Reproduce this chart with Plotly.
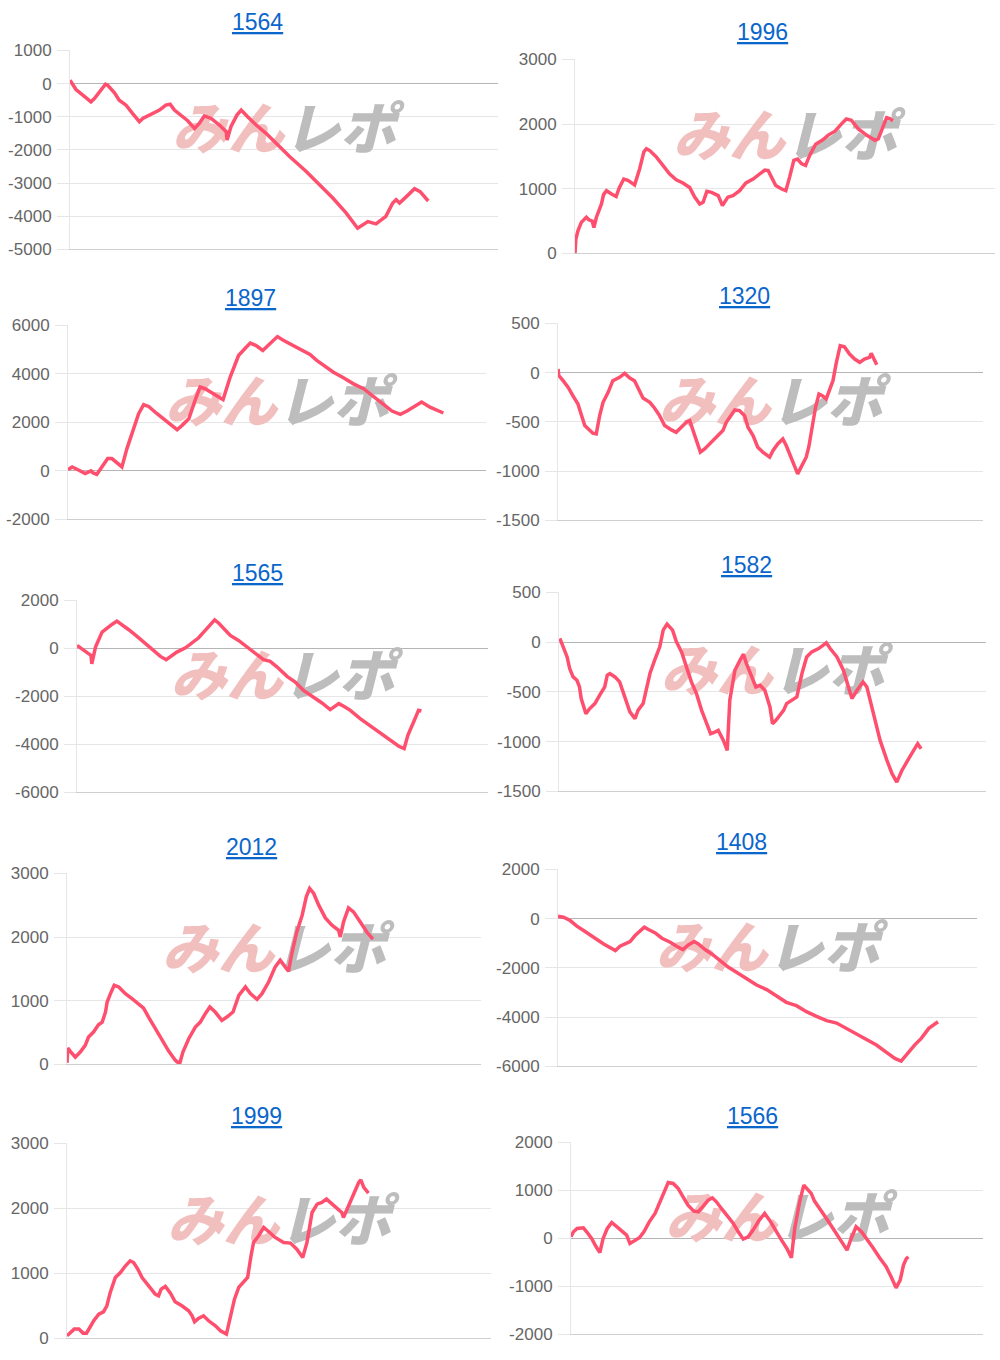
import plotly.graph_objects as go

W, H = 1000, 1360
SY, OY = 0.986, 8.7    # vertical scale / offset observed between figure and final picture

# ---------------- data (x = position along the game axis, 0-100 %) ----------------
titles = ["1564", "1996", "1897", "1320", "1565", "1582", "2012", "1408", "1999", "1566"]

x_1564 = [0, 1.4, 3.0, 4.9, 5.7, 6.9, 8.3, 8.8, 10.4, 11.5, 13.1, 14.6, 16.2, 17.0, 18.5, 20.9, 22.4, 23.4, 24.4, 25.9,
          27.5, 29.1, 30.2, 31.4, 33.0, 34.9, 36.5, 36.7, 37.6, 39.0, 40.0, 41.5, 43.5, 45.8, 48.1, 51.3, 55.2, 58.3, 61.4, 64.5,
          67.2, 69.6, 71.5, 73.8, 75.4, 76.2, 77.0, 78.9, 80.5, 81.8, 83.7]
y_1564 = [100, -180, -350, -550, -450, -250, -20, -50, -280, -500, -650, -900, -1150, -1050, -950, -800, -650, -620, -800, -950,
          -1120, -1350, -1200, -970, -1050, -1250, -1450, -1700, -1300, -950, -800, -1000, -1250, -1500, -1800, -2200, -2650, -3050, -3450, -3900,
          -4360, -4160, -4230, -4000, -3600, -3500, -3600, -3370, -3170, -3260, -3540]

x_1996 = [0, 0.2, 0.7, 1.5, 2.7, 3.3, 4.1, 4.5, 5.1, 6.3, 6.8, 7.5, 8.7, 9.8, 10.5, 11.6, 12.6, 14.2, 15.4, 16.4,
          17.0, 17.8, 19.4, 21.0, 22.5, 24.1, 25.7, 27.3, 28.5, 29.7, 30.5, 31.4, 32.5, 34.1, 35.1, 36.4, 37.6, 39.2, 40.7, 42.4,
          44.0, 45.2, 46.0, 46.8, 47.8, 49.1, 50.2, 51.1, 52.1, 53.0, 53.9, 54.9, 55.9, 57.3, 59.1, 60.3, 61.9, 63.4, 64.6, 65.8,
          67.4, 69.4, 71.4, 72.2, 73.2, 74.2, 75.1, 75.7]
y_1996 = [0, 220, 350, 480, 560, 520, 500, 400, 560, 765, 910, 970, 920, 880, 1010, 1150, 1130, 1060, 1310, 1570,
          1620, 1590, 1490, 1360, 1230, 1140, 1090, 1020, 870, 765, 790, 960, 945, 895, 740, 870, 895, 970, 1090, 1150,
          1230, 1290, 1280, 1180, 1050, 1000, 970, 1180, 1440, 1460, 1390, 1360, 1520, 1690, 1760, 1830, 1890, 2000, 2080, 2060,
          1930, 1830, 1750, 1770, 1930, 2100, 2080, 2050]

x_1897 = [0, 1.0, 2.6, 4.1, 5.5, 6.0, 6.9, 8.1, 9.5, 10.5, 11.7, 12.9, 14.1, 15.5, 16.9, 18.1, 19.3, 21.3, 23.7, 26.1,
          27.3, 28.9, 30.4, 31.6, 32.8, 34.8, 37.1, 38.8, 40.8, 42.4, 43.6, 45.0, 46.6, 47.6, 48.8, 50.1, 51.6, 54.0, 56.0, 57.9,
          59.5, 61.1, 63.5, 65.9, 68.3, 70.7, 72.7, 75.1, 77.5, 79.5, 81.1, 83.0, 84.6, 86.6, 89.8]
y_1897 = [55, 165, 30, -110, 0, -80, -140, 190, 510, 510, 330, 165, 920, 1600, 2360, 2730, 2660, 2360, 2020, 1700,
          1880, 2150, 2910, 3460, 3390, 3180, 2940, 3870, 4760, 5060, 5270, 5170, 4970, 5130, 5310, 5540, 5380, 5170, 4970, 4800,
          4560, 4350, 4070, 3840, 3590, 3390, 3140, 2800, 2470, 2330, 2470, 2660, 2840, 2630, 2390]

x_1320 = [0, 0.2, 1.2, 2.4, 3.5, 4.7, 5.3, 6.3, 7.4, 8.2, 9.0, 9.8, 10.6, 11.8, 12.9, 14.5, 15.7, 16.9, 18.0, 19.2,
          20.0, 21.6, 22.7, 23.9, 25.1, 26.7, 27.8, 29.0, 30.2, 31.0, 31.4, 32.5, 33.5, 34.5, 35.7, 37.2, 38.8, 39.6, 40.8, 41.6,
          42.7, 43.9, 44.7, 45.9, 47.0, 48.2, 49.8, 50.6, 51.7, 52.9, 53.7, 54.5, 55.7, 56.4, 57.2, 58.4, 59.0, 59.8, 60.6, 61.4,
          62.2, 63.1, 63.9, 64.7, 65.5, 66.4, 67.4, 68.6, 69.8, 71.0, 72.1, 73.3, 73.7, 74.1, 75.0]
y_1320 = [37, -30, -81, -149, -233, -318, -402, -537, -581, -615, -622, -436, -301, -199, -81, -47, -7, -54, -81, -182,
          -257, -301, -358, -436, -537, -581, -605, -554, -503, -487, -537, -655, -807, -774, -723, -655, -588, -503, -419, -378,
          -385, -436, -554, -638, -757, -807, -858, -790, -723, -672, -740, -824, -959, -1027, -959, -858, -757, -554, -351, -216,
          -233, -267, -182, -81, 105, 274, 263, 189, 138, 105, 138, 155, 196, 155, 81]

x_1565 = [0, 1.2, 2.4, 3.4, 3.6, 4.5, 6.1, 7.3, 8.5, 9.7, 10.9, 12.6, 14.6, 17.0, 19.1, 20.3, 21.7, 22.7, 24.3, 26.4,
          28.0, 29.6, 31.2, 32.4, 33.5, 34.5, 35.7, 37.3, 39.3, 41.4, 43.4, 45.4, 47.0, 48.7, 51.1, 53.1, 55.1, 57.6, 59.6, 61.6,
          62.4, 63.7, 64.9, 66.5, 68.9, 71.4, 73.8, 76.2, 78.3, 79.6, 80.5, 81.9, 83.1, 83.8]
y_1565 = [125, -14, -152, -291, -638, 55, 680, 860, 1000, 1140, 1000, 780, 500, 166, -152, -333, -471, -360, -152, 28,
          222, 444, 750, 1000, 1190, 1050, 820, 540, 333, 55, -222, -471, -540, -776, -1164, -1400, -1746, -2024, -2273, -2550,
          -2467, -2300, -2412, -2578, -2925, -3230, -3548, -3853, -4075, -4172, -3617, -3063, -2578, -2606]

x_1582 = [0.2, 0.9, 1.9, 2.5, 3.3, 4.2, 4.8, 5.2, 6.3, 7.2, 8.4, 9.5, 10.7, 11.3, 11.9, 13.1, 14.2, 15.4, 16.6, 17.8,
          18.5, 19.7, 20.5, 21.3, 22.4, 23.6, 24.4, 25.3, 26.6, 27.5, 28.7, 29.9, 31.0, 32.2, 33.4, 34.6, 35.5, 36.5, 37.3, 38.5,
          39.4, 40.0, 41.2, 42.4, 43.2, 43.9, 45.1, 46.1, 47.1, 48.2, 49.4, 50.0, 50.8, 51.8, 52.6, 53.3, 54.5, 55.7, 56.9, 58.0,
          59.2, 60.8, 61.9, 62.6, 63.5, 65.1, 66.6, 68.6, 69.8, 71.2, 72.1, 73.7, 75.2, 76.8, 78.0, 79.1, 80.3, 81.9, 83.0, 84.0,
          84.8]
y_1582 = [37, -47, -148, -265, -349, -383, -450, -567, -718, -667, -617, -534, -450, -332, -315, -349, -399, -550, -701, -768,
          -685, -617, -483, -315, -181, -47, 121, 181, 121, 3, -97, -248, -399, -517, -685, -819, -920, -903, -886, -987,
          -1087, -584, -282, -181, -121, -215, -332, -450, -433, -483, -651, -819, -785, -735, -685, -617, -584, -550, -315, -148,
          -97, -64, -30, -7, -64, -148, -282, -567, -483, -399, -450, -718, -987, -1188, -1322, -1406, -1289, -1171, -1087, -1020,
          -1070]

x_2012 = [0, 0.2, 0.8, 2.0, 3.2, 4.4, 5.2, 6.4, 7.6, 8.5, 9.3, 9.7, 10.5, 11.4, 12.5, 14.1, 15.7, 17.3, 18.5, 19.7,
          21.3, 22.9, 24.6, 26.2, 27.2, 28.0, 29.4, 31.0, 32.2, 33.4, 34.5, 35.8, 37.4, 38.6, 40.1, 41.5, 43.1, 44.3, 45.9, 47.1,
          48.7, 50.3, 51.5, 52.7, 53.5, 54.3, 55.5, 56.8, 57.8, 58.6, 59.6, 60.8, 62.4, 64.0, 65.6, 66.0, 66.8, 68.0, 69.2, 70.8,
          72.5, 73.9]
y_2012 = [26, 257, 205, 115, 194, 299, 430, 509, 624, 666, 823, 981, 1112, 1243, 1217, 1112, 1033, 955, 886, 745,
          561, 378, 205, 63, 10, 194, 404, 587, 666, 797, 902, 823, 692, 745, 823, 1086, 1217, 1112, 1023, 1112,
          1295, 1532, 1636, 1532, 1463, 1741, 2082, 2344, 2633, 2764, 2685, 2502, 2302, 2187, 2108, 2004, 2240, 2460, 2397, 2240,
          2072, 1967]

x_1408 = [0, 1.3, 2.9, 4.5, 6.1, 7.7, 9.3, 10.9, 12.5, 13.7, 14.8, 16.0, 17.2, 18.4, 19.6, 20.6, 21.6, 23.2, 24.8, 26.8,
          28.3, 29.8, 31.1, 32.5, 33.5, 35.1, 36.7, 38.7, 40.7, 42.6, 45.0, 47.4, 49.8, 52.2, 54.5, 56.9, 59.3, 61.7, 64.1, 66.5,
          68.8, 71.2, 73.6, 76.0, 78.4, 80.4, 81.9, 83.5, 85.1, 86.7, 88.5, 90.7]
y_1408 = [102, 61, -75, -305, -481, -685, -847, -1024, -1200, -1295, -1119, -1024, -929, -685, -522, -346, -441, -576, -793, -956,
          -1119, -1254, -1064, -929, -1024, -1254, -1431, -1702, -1973, -2176, -2420, -2691, -2881, -3152, -3396, -3532, -3776, -3966, -4142, -4237,
          -4454, -4685, -4888, -5132, -5431, -5675, -5783, -5431, -5132, -4861, -4454, -4183]

x_1999 = [0, 0.8, 1.7, 2.8, 3.8, 4.6, 5.3, 6.3, 7.5, 8.6, 9.4, 10.2, 11.4, 12.6, 13.8, 14.9, 15.7, 16.7, 17.7, 19.3,
          20.8, 21.6, 22.2, 23.2, 24.4, 25.5, 27.1, 28.7, 29.5, 30.1, 31.0, 32.2, 33.4, 35.0, 36.2, 37.6, 38.5, 39.5, 40.5, 41.5,
          42.6, 43.4, 44.0, 45.2, 46.4, 47.6, 49.1, 51.1, 52.7, 54.2, 55.6, 56.6, 57.8, 59.0, 60.1, 61.2, 62.5, 63.7, 64.8, 65.2,
          66.4, 67.6, 68.8, 69.3, 70.0, 71.1]
y_1999 = [41, 82, 144, 144, 82, 82, 169, 272, 374, 410, 503, 708, 938, 1015, 1118, 1195, 1169, 1067, 938, 810,
          682, 656, 759, 800, 697, 564, 503, 426, 349, 256, 308, 349, 272, 195, 118, 67, 349, 605, 785, 862,
          938, 1272, 1477, 1580, 1708, 1641, 1554, 1477, 1467, 1374, 1246, 1477, 1938, 2067, 2092, 2144, 2067, 1990, 1938, 1862,
          2041, 2246, 2400, 2441, 2323, 2236]

x_1566 = [0, 0.6, 1.5, 3.0, 3.8, 5.0, 6.1, 7.0, 7.8, 8.8, 9.9, 11.1, 12.3, 13.5, 14.3, 15.3, 16.6, 17.7, 19.0, 20.4,
          21.6, 22.8, 23.6, 24.8, 26.0, 27.2, 28.4, 29.8, 30.9, 32.1, 33.3, 34.3, 35.3, 36.5, 38.1, 39.4, 40.6, 41.8, 43.0, 44.2,
          45.7, 47.0, 48.2, 49.7, 51.1, 52.4, 53.5, 54.3, 55.5, 56.5, 57.5, 58.3, 59.1, 60.4, 62.0, 63.6, 65.2, 66.4, 67.0, 68.0,
          69.2, 70.5, 71.7, 73.3, 74.9, 76.5, 77.7, 78.9, 79.9, 80.7, 81.4, 81.9]
y_1566 = [35, 139, 208, 222, 139, 0, -174, -292, 0, 208, 333, 243, 174, 69, -104, -56, 14, 139, 347, 521,
          764, 1007, 1167, 1146, 1042, 868, 694, 569, 556, 674, 799, 847, 764, 625, 465, 312, 139, -14, 35, 174,
          382, 521, 382, 153, -35, -208, -403, 208, 764, 1111, 1028, 938, 778, 625, 417, 208, 0, -174, -243, 0,
          243, 139, 0, -194, -403, -590, -799, -1028, -868, -556, -417, -382]

series_x = [x_1564, x_1996, x_1897, x_1320, x_1565, x_1582, x_2012, x_1408, x_1999, x_1566]
series_y = [y_1564, y_1996, y_1897, y_1320, y_1565, y_1582, y_2012, y_1408, y_1999, y_1566]

y_min = [-5000, 0, -2000, -1500, -6000, -1500, 0, -6000, 0, -2000]
y_max = [1000, 3000, 6000, 500, 2000, 500, 3000, 2000, 3000, 2000]
y_step = [1000, 1000, 2000, 500, 2000, 500, 1000, 2000, 1000, 1000]

# ---------------- layout (pixel boxes of each plot area, in picture pixels) ----------------
boxes = [(70, 498, 50, 249), (575, 995, 59, 253), (68, 486, 325, 519), (558, 983, 323, 520),
         (77, 488, 600, 792), (559, 986, 592, 791), (67, 481, 873, 1064), (558, 977, 869, 1066),
         (67, 491, 1143, 1338), (571, 983, 1142, 1334)]
title_xy = [(257, 22), (762, 32), (250, 298), (744, 296), (257, 573), (746, 565),
            (251, 847), (741, 842), (256, 1116), (752, 1116)]

LINE = "#ff4f6e"
GRID = "#e6e6e6"
FONT = "Liberation Sans, Arial, Helvetica, sans-serif"
WM = ("<span style='color:#f2bfbf'>みん</span>"
      "<span style='color:#bdbdbd'>レポ</span>")


def py(v):
    return 1 - (v / SY - OY) / H


fig = go.Figure()
layout = dict(width=W, height=H, margin=dict(l=0, r=0, t=0, b=0),
              paper_bgcolor="white", plot_bgcolor="white", showlegend=False,
              annotations=[])

for i in range(10):
    n = "" if i == 0 else str(i + 1)
    xa, ya = "x" + n, "y" + n
    l, r, t, b = boxes[i]
    lo, hi = y_min[i], y_max[i]
    tv = list(range(lo, hi + 1, y_step[i]))
    # watermark (drawn first so the line sits above it)
    fig.add_trace(go.Scatter(x=[50], y=[lo + 0.573 * (hi - lo)], mode="text", text=[WM],
                             textposition="middle center",
                             textfont=dict(family="Noto Sans CJK JP", size=56, weight=900, style="italic"),
                             hoverinfo="skip", xaxis=xa, yaxis=ya))
    fig.add_trace(go.Scatter(x=series_x[i], y=series_y[i], mode="lines",
                             line=dict(color=LINE, width=3.5), xaxis=xa, yaxis=ya,
                             hoverinfo="y"))
    layout["xaxis" + n] = dict(domain=[l / W, r / W], range=[0, 100], anchor=ya,
                               showgrid=False, zeroline=False, showticklabels=False,
                               ticks="", showline=True, linecolor="#cfcfcf", linewidth=1,
                               fixedrange=True)
    layout["yaxis" + n] = dict(domain=[py(b), py(t)], range=[lo, hi], anchor=xa,
                               tickmode="array", tickvals=tv, ticktext=[str(v) for v in tv],
                               showgrid=True, gridcolor=GRID, gridwidth=1,
                               zeroline=True, zerolinecolor="#b5b5b5", zerolinewidth=1,
                               showline=True, linecolor=GRID, linewidth=1,
                               ticks="outside", ticklen=12, tickcolor=GRID,
                               ticklabelstandoff=2,
                               tickfont=dict(family=FONT, size=17, color="#666666"),
                               fixedrange=True)
    tx, ty = title_xy[i]
    layout["annotations"].append(dict(text="<u>" + titles[i] + "</u>", xref="paper", yref="paper",
                                      x=tx / W, y=py(ty), xanchor="center", yanchor="middle",
                                      showarrow=False,
                                      font=dict(family=FONT, size=23, color="#0b66cc")))

fig.update_layout(**layout)
fig.write_html("out.html", config={"displayModeBar": False},
               post_script="document.body.style.margin='0';document.body.style.padding='0';")
